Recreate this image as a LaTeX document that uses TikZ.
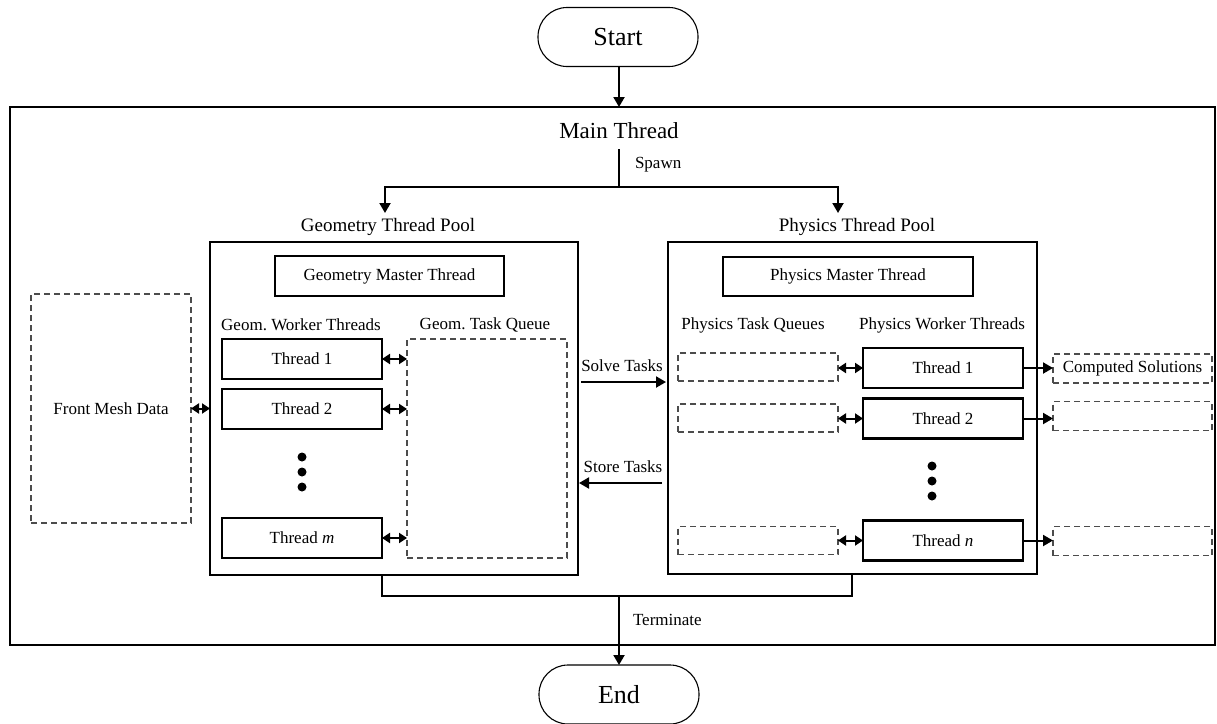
\documentclass[tikz,border=0pt]{standalone}
\usepackage{fontspec}
\setmainfont{Liberation Serif}
\usetikzlibrary{arrows.meta}
\frenchspacing
\begin{document}
\begin{tikzpicture}[x=1pt,y=-1pt,
  every node/.style={inner sep=0pt, outer sep=0pt, font=\fontsize{17}{20}\selectfont},
  solidbox/.style={draw, line width=2.8pt, minimum width=160pt, minimum height=40pt},
  dashbox/.style={draw=black!70, line width=1.2pt, dash pattern=on 6pt off 4pt, minimum width=160pt},
  terminal/.style={draw, line width=1.1pt, rounded corners=29pt, minimum width=160pt, minimum height=59pt, font=\fontsize{26}{30}\selectfont},
  poollabel/.style={font=\fontsize{19}{22}\selectfont},
  bigbox/.style={draw, line width=2.9pt},
  conn/.style={line width=2pt},
  arr/.style={conn, -{Triangle[length=10pt,width=11pt]}},
  darr/.style={conn, {Triangle[length=8pt,width=10pt]}-{Triangle[length=8pt,width=10pt]}},
  dot/.style={circle, fill, minimum size=9pt}
]
\useasboundingbox (0,0) rectangle (1217,723);

% terminals
\node[terminal] (start) at (618,37) {Start};
\node[terminal] (end) at (619,694.5) {End};

% main thread box
\node[bigbox, minimum width=1205pt, minimum height=538pt] (main) at (612.5,376) {};
\node[font=\fontsize{23}{26}\selectfont] (mainlab) at (619,131) {Main Thread};
\draw[arr] (start.south -| 619,0) -- (main.north -| 619,0);

% pools
\node[bigbox, minimum width=368pt, minimum height=333pt] (gpool) at (394,408.5) {};
\node[bigbox, minimum width=369pt, minimum height=332pt] (ppool) at (852.5,408) {};
\node[poollabel] (glab) at (388,227) {Geometry Thread Pool};
\node[poollabel] (plab) at (857,227) {Physics Thread Pool};

% spawn
\coordinate (sp0) at (619,149);
\coordinate (sp1) at (619,187);
\coordinate (spL) at (385,187);
\coordinate (spR) at (838,187);
\coordinate (spLe) at (385,213);
\coordinate (spRe) at (838,213);
\draw[conn] (sp0) -- (sp1);
\draw[arr] (sp1) -- (spL) -- (spLe);
\draw[arr] (sp1) -- (spR) -- (spRe);
\node[anchor=west] (spawn) at (635,165) {Spawn};

% geometry pool content
\node[solidbox, minimum width=229pt] (gmaster) at (389.5,276) {Geometry Master Thread};
\node (gwlab) at (301,325) {Geom. Worker Threads};
\node (gqlab) at (485,325) {Geom. Task Queue};
\node[solidbox] (gt1) at (302,359) {Thread 1};
\node[solidbox] (gt2) at (302,409) {Thread 2};
\node[solidbox] (gtm) at (302,538) {Thread \textit{m}};
\node[dot] (gd1) at (302,457) {};
\node[dot] (gd2) at (302,472) {};
\node[dot] (gd3) at (302,487) {};
\node[dashbox, minimum height=219pt] (gq) at (487,448.5) {};
\draw[darr] (gt1.east) -- (gt1.east -| gq.west);
\draw[darr] (gt2.east) -- (gt2.east -| gq.west);
\draw[darr] (gtm.east) -- (gtm.east -| gq.west);

% front mesh
\node[dashbox, minimum height=229pt] (front) at (111,408.5) {Front Mesh Data};
\draw[darr] (front.east) -- (front.east -| gpool.west);

% solve / store
\coordinate (solveA) at (581,382);
\coordinate (solveB) at (666,382);
\coordinate (storeA) at (662,483);
\coordinate (storeB) at (579,483);
\draw[arr] (solveA) -- (solveB);
\draw[arr] (storeA) -- (storeB);
\node (solve) at (622,366) {Solve Tasks};
\node (store) at (623,467) {Store Tasks};

% physics pool content
\node[solidbox, minimum width=250pt, minimum height=39pt] (pmaster) at (848,276.5) {Physics Master Thread};
\node (pqlab) at (753,325) {Physics Task Queues};
\node (pwlab) at (942,325) {Physics Worker Threads};
\node[dashbox, minimum height=28pt] (pq1) at (758,367) {};
\node[dashbox, minimum height=28pt] (pq2) at (758,418) {};
\node[dashbox, minimum height=28pt] (pqn) at (758,540.5) {};
\node[solidbox] (pt1) at (943,368) {Thread 1};
\node[solidbox] (pt2) at (943,418.5) {Thread 2};
\node[solidbox] (ptn) at (943,540.5) {Thread \textit{n}};
\node[dot] (pd1) at (932,466) {};
\node[dot] (pd2) at (932,481) {};
\node[dot] (pd3) at (932,496) {};
\draw[darr] (pq1.east |- pt1.west) -- (pt1.west);
\draw[darr] (pq2.east |- pt2.west) -- (pt2.west);
\draw[darr] (pqn.east |- ptn.west) -- (ptn.west);

% outputs
\node[dashbox, minimum width=159pt, minimum height=29pt] (o1) at (1132.5,368.5) {Computed Solutions};
\node[dashbox, minimum width=159pt, minimum height=29pt] (o2) at (1132.5,416) {};
\node[dashbox, minimum width=159pt, minimum height=29pt] (on) at (1132.5,541) {};
\draw[arr] (pt1.east) -- (pt1.east -| o1.west);
\draw[arr] (pt2.east) -- (pt2.east -| o2.west);
\draw[arr] (ptn.east) -- (ptn.east -| on.west);

% terminate
\coordinate (tL) at (382,596);
\coordinate (tR) at (852,596);
\coordinate (tM) at (619,596);
\draw[conn] (gpool.south -| tL) -- (tL) -- (tR) -- (ppool.south -| tR);
\draw[arr] (tM) -- (end.north -| tM);
\node[anchor=west] (term) at (633,620) {Terminate};
\end{tikzpicture}
\end{document}
